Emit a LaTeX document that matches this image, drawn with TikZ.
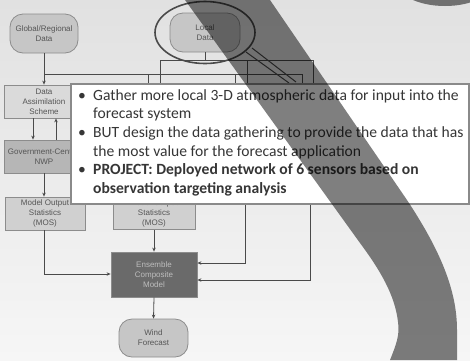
\documentclass[tikz,border=0pt]{standalone}
\usepackage{fontspec}
\setmainfont{Carlito}
\newfontfamily\boxfont{Liberation Sans}
\usetikzlibrary{arrows.meta}
\definecolor{bgA}{HTML}{E1E1E1}
\definecolor{bgB}{HTML}{F6F6F6}
\definecolor{cBorder}{HTML}{8C8C8C}
\definecolor{cLine}{HTML}{4A4A4A}
\definecolor{cNodeText}{HTML}{555555}
\definecolor{cPill}{HTML}{C6C6C6}
\definecolor{cDA}{HTML}{DADADA}
\definecolor{cNWP}{HTML}{B6B6B6}
\definecolor{cMOS}{HTML}{D0D0D0}
\definecolor{cEns}{HTML}{6A6A6A}
\definecolor{cEnsText}{HTML}{BDBDBD}
\definecolor{cDark}{HTML}{4A4A4A}
\definecolor{cTxt}{HTML}{363636}
\definecolor{cTBorder}{HTML}{8A8A8A}
\tikzset{
  nodebase/.style={draw=cBorder, line width=0.8pt, font=\boxfont\fontsize{8}{10}\selectfont,
    text=cNodeText, align=center, inner sep=0pt},
  pill/.style={nodebase, rounded corners=13pt, fill=cPill},
  rectbox/.style={nodebase},
  conn/.style={draw=cLine, line width=0.8pt},
  arr/.style={conn, -{Stealth[length=4pt,width=3.5pt]}},
  shadeover/.style={fill=black, opacity=0.5},
}
\begin{document}
\begin{tikzpicture}[x=1pt,y=-1pt]
\useasboundingbox (0,0) rectangle (470,360);
\fill[top color=bgA, bottom color=bgB] (0,0) rectangle (470,360);

% nodes
\node[pill, minimum width=68pt, minimum height=39pt] (glob) at (44,33.5) {Global/Regional\\Data};
\node[pill, minimum width=70pt, minimum height=39pt] (local) at (205,32.5) {Local\\Data};
\node[rectbox, fill=cDA, minimum width=80pt, minimum height=33pt] (da) at (44,101.5) {Data\\Assimilation\\Scheme};
\node[rectbox, fill=cNWP, minimum width=80pt, minimum height=33pt] (nwp) at (44,156.5) {Government-Centric\\NWP};
\node[rectbox, fill=cMOS, minimum width=80pt, minimum height=33pt] (mos1) at (45,213.5) {Model Output\\Statistics\\(MOS)};
\node[rectbox, fill=cMOS, minimum width=82pt, minimum height=33pt] (mos2) at (154,213) {Model Output\\Statistics\\(MOS)};
\node[rectbox, fill=cEns, text=cEnsText, minimum width=86pt, minimum height=45pt] (ens) at (154,274.5) {Ensemble\\Composite\\Model};
\node[pill, minimum width=69pt, minimum height=38pt] (wind) at (153.5,338) {Wind\\Forecast};

% magnifier around local data
\draw[cDark, line width=1.6pt] (local.center) ellipse [x radius=50pt, y radius=31pt];
\coordinate (h1) at (252,48); \coordinate (h2) at (296,82);
\coordinate (h3) at (246,52); \coordinate (h4) at (289,83);
\draw[cDark, line width=1pt] (h1) -- (h2);
\draw[cDark, line width=1pt] (h3) -- (h4);

% buses
\coordinate (lb0) at (44,74); \coordinate (lb1) at (302,74);
\coordinate (ub0) at (160,60); \coordinate (ub1) at (313,60);
\coordinate (lj) at (205,60);
\draw[conn] (lb0) -- (lb1);
\draw[conn] (ub0) -- (ub1);
\draw[conn] (local.south) -- (lj);
\foreach \x in {148,235,302} { \coordinate (lv\x) at (\x,74); \coordinate (lw\x) at (\x,92); \draw[conn] (lv\x) -- (lw\x); }
\foreach \x in {160,247,313} { \coordinate (uv\x) at (\x,60); \coordinate (uw\x) at (\x,92); \draw[conn] (uv\x) -- (uw\x); }

\draw[arr] (glob.south) -- (da.north);
\draw[arr] (da.south -| 33,0) -- (nwp.north -| 33,0);
\draw[arr] (nwp.north -| 56,0) -- (da.south -| 56,0);
\draw[arr] (nwp.south) -- (nwp.south |- mos1.north);
\draw[arr] (mos1.south -| 44,0) |- (ens.west |- 0,274);
\draw[arr] (mos2.south) -- (ens.north);
\coordinate (r1) at (245,195); \coordinate (r2) at (310,195);
\draw[arr] (r1) |- (ens.east |- 0,263);
\draw[arr] (r2) |- (ens.east |- 0,280);
\draw[arr] (ens.south) -- (wind.north);

% text box
\node[draw=cTBorder, line width=1.5pt, fill=white, minimum width=398pt, minimum height=120pt,
      anchor=north west, inner sep=0pt] (tbox) at (70,83) {};
\node[anchor=base west, inner sep=0pt, text=cTxt] (txt) at (78,100) {\parbox[t]{390pt}{%
\fontsize{15.6}{18.7}\selectfont\raggedright
\makebox[15pt][l]{•}Gather more local 3-D atmospheric data for input into the\\
\hspace*{15pt}forecast system\\
\makebox[15pt][l]{•}BUT design the data gathering to provide the data that has\\
\hspace*{15pt}the most value for the forecast application\\
\makebox[15pt][l]{•}\textbf{PROJECT: Deployed network of 6 sensors based on}\\
\hspace*{15pt}\textbf{observation targeting analysis}}};

% overlays
\fill[shadeover] (445,-20) ellipse [x radius=50pt, y radius=26pt];
\fill[shadeover] (185,0) -- (270,0) -- (407,200) .. controls (440,250) and (457,290) .. (457,330)
  -- (457,360) -- (390,360) .. controls (396,345) and (400,335) .. (398,322)
  .. controls (395,295) and (380,270) .. (360,243) -- cycle;
\end{tikzpicture}
\end{document}
